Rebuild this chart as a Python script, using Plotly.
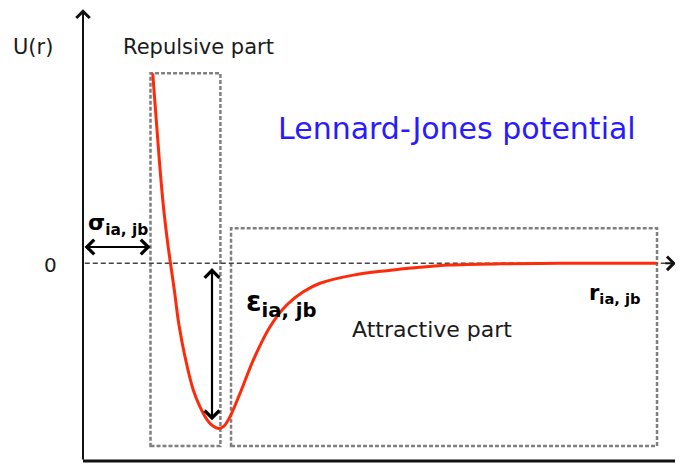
import plotly.graph_objects as go

# ---- data: Lennard-Jones curve (r in arbitrary units, U in units of epsilon)
r_vals = [1.162, 1.272, 1.338, 1.405, 1.458, 1.522, 1.595, 1.70, 1.838, 1.95,
          2.072, 2.167, 2.255, 2.35, 2.45, 2.617, 2.838, 3.117, 3.395, 3.672,
          3.95, 4.505, 5.062, 5.617, 6.117, 6.95, 7.95, 9.562]
u_vals = [1.163, 0.632, 0.357, 0.143, 0.0, -0.163, -0.367, -0.572, -0.775, -0.878,
          -0.959, -0.996, -1.01, -0.996, -0.939, -0.796, -0.592, -0.388, -0.255, -0.174,
          -0.122, -0.072, -0.045, -0.024, -0.010, -0.003, 0.0, 0.0]

title_text = "Lennard-Jones potential"
y_label = "U(r)"
zero_label = "0"
repulsive_label = "Repulsive part"
attractive_label = "Attractive part"
sigma_label = "<b>σ<sub>ia, jb</sub></b>"
eps_label = "<b>ε<sub>ia, jb</sub></b>"
r_label = "<b>r<sub>ia, jb</sub></b>"

# ---- layout constants (data units)
X_RANGE = [-1.25, 10.0]
Y_RANGE = [-1.228, 1.5625]
AXIS_BOTTOM = -1.21
AXIS_TOP = 1.555
REP_BOX = dict(x0=1.125, x1=2.29, y0=-1.118, y1=1.163)
ATT_BOX = dict(x0=2.467, x1=9.567, y0=-1.118, y1=0.214)
SIGMA_Y = 0.10
EPS_X = 2.15

FONT = "DejaVu Sans"

fig = go.Figure()
fig.add_trace(go.Scatter(
    x=r_vals, y=u_vals, mode="lines",
    line=dict(color="#ff2a0a", width=3, shape="spline", smoothing=0.9),
    hoverinfo="skip"))

shapes = []
box_line = dict(color="#808080", width=2.5, dash="4px,2px")
for b in (REP_BOX, ATT_BOX):
    shapes.append(dict(type="rect", xref="x", yref="y", line=box_line,
                       fillcolor="rgba(0,0,0,0)", layer="below", **b))
# zero dashed line
shapes.append(dict(type="line", xref="x", yref="y", x0=0.03, x1=9.75, y0=0, y1=0,
                   line=dict(color="#444444", width=1.5, dash="5px,3px"), layer="below"))
# bottom axis
shapes.append(dict(type="line", xref="x", yref="y", x0=0, x1=10, y0=AXIS_BOTTOM, y1=AXIS_BOTTOM,
                   line=dict(color="#111111", width=3)))
fig.update_layout(shapes=shapes)

ann = []
# vertical axis with arrow
ann.append(dict(x=0, y=AXIS_TOP, ax=0, ay=AXIS_BOTTOM, xref="x", yref="y", axref="x", ayref="y",
                showarrow=True, arrowhead=4, arrowsize=1.3, arrowwidth=2, arrowcolor="#111111", text=""))
# arrowhead of zero line
ann.append(dict(x=9.88, y=0, ax=9.68, ay=0, xref="x", yref="y", axref="x", ayref="y",
                showarrow=True, arrowhead=4, arrowsize=1.3, arrowwidth=2, arrowcolor="#111111", text=""))
# sigma double arrow
ann.append(dict(x=REP_BOX["x0"], y=SIGMA_Y, ax=0.0, ay=SIGMA_Y, xref="x", yref="y", axref="x", ayref="y",
                showarrow=True, arrowhead=4, startarrowhead=4, arrowside="end+start",
                arrowsize=1.3, startarrowsize=1.3, arrowwidth=2.2, arrowcolor="#000000", text=""))
# epsilon double arrow
ann.append(dict(x=EPS_X, y=-0.96, ax=EPS_X, ay=-0.02, xref="x", yref="y", axref="x", ayref="y",
                showarrow=True, arrowhead=4, startarrowhead=4, arrowside="end+start",
                arrowsize=1.3, startarrowsize=1.3, arrowwidth=2.2, arrowcolor="#000000", text=""))

def txt(x, y, t, size, color="#1a1a1a", xanchor="center"):
    return dict(x=x, y=y, xref="x", yref="y", text=t, showarrow=False,
                xanchor=xanchor, yanchor="middle", font=dict(family=FONT, size=size, color=color))

ann.append(txt(-0.833, 1.324, y_label, 21))
ann.append(txt(1.925, 1.324, repulsive_label, 21))
ann.append(txt(6.233, 0.828, title_text, 30, color="#2a1aff"))
ann.append(txt(-0.55, -0.01, zero_label, 20))
ann.append(txt(0.05, 0.24, sigma_label, 22, color="#000000", xanchor="left"))
ann.append(txt(2.68, -0.243, eps_label, 28, color="#000000", xanchor="left"))
ann.append(txt(8.4, -0.19, r_label, 21, color="#000000", xanchor="left"))
ann.append(txt(5.817, -0.402, attractive_label, 22))
fig.update_layout(annotations=ann)

# the page body has an 8px default margin, so the figure is sized to fill the rest of the window
fig.update_layout(
    width=675, height=456, margin=dict(l=0, r=0, t=0, b=0),
    paper_bgcolor="white", plot_bgcolor="white", showlegend=False,
    xaxis=dict(range=X_RANGE, visible=False, fixedrange=True),
    yaxis=dict(range=Y_RANGE, visible=False, fixedrange=True),
)
fig.write_html("out.html")
